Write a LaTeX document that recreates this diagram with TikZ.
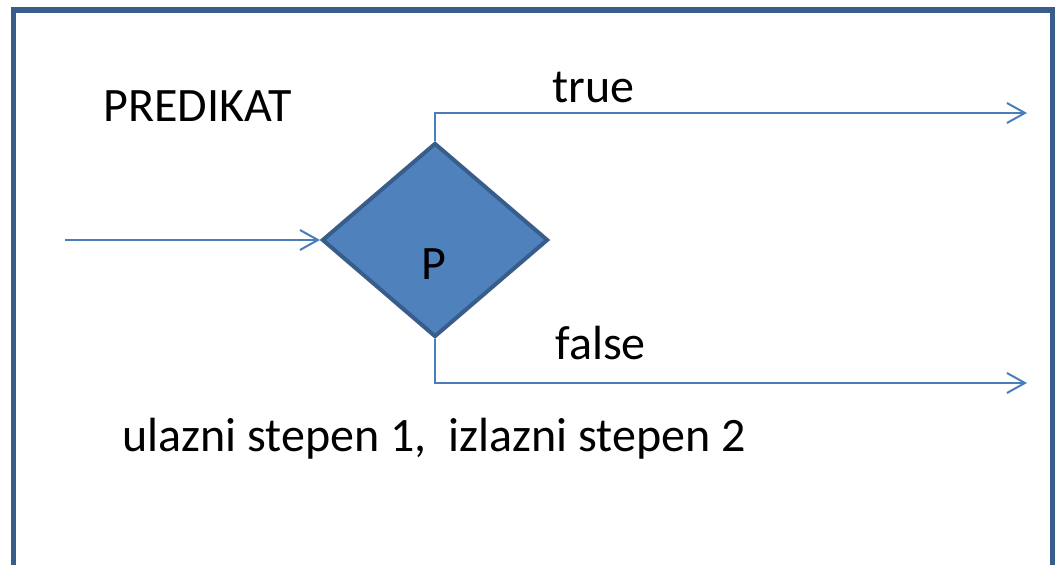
\documentclass[tikz,border=0pt]{standalone}
\usepackage{fontspec}
\setmainfont{Carlito}
\usetikzlibrary{shapes.geometric,arrows.meta,positioning}
\definecolor{frameblue}{HTML}{385D8A}
\definecolor{fillblue}{HTML}{4F81BD}
\definecolor{lineblue}{HTML}{4A7EBB}

\begin{document}
\begin{tikzpicture}[x=0.5pt,y=-0.5pt,
  flow/.style={draw=lineblue,line width=1pt,-{Straight Barb[length=9pt,width=10pt]}},
  txt/.style={inner sep=0pt,anchor=base west,font=\fontsize{24}{29}\selectfont}]
  \useasboundingbox (0,0) rectangle (1057,565);
  % frame, open at the bottom
  \draw[frameblue,line width=2.6pt] (13.5,575) -- (13.5,10) -- (1052.5,10) -- (1052.5,575);

  \node[diamond,draw=frameblue,fill=fillblue,line width=2pt,inner sep=0pt,
        minimum width=113pt,minimum height=97pt] (p) at (435,240) {};
  \node[txt,anchor=base] (plabel) at (434,280) {P};

  \coordinate[left=127.5pt of p] (src);
  \coordinate (ttip) at (1027,113);
  \coordinate (ftip) at (1027,383);

  \draw[flow] (src) -- (p);
  \draw[flow] (p.north) |- (ttip);
  \draw[flow] (p.south) |- (ftip);

  \node[txt] (title) at (103,122) {PREDIKAT};
  \node[txt] (tlabel) at (552,103) {true};
  \node[txt] (flabel) at (555,360) {false};
  \node[txt] (degrees) at (122,452) {ulazni stepen 1,\ \ izlazni stepen 2};
\end{tikzpicture}
\end{document}
